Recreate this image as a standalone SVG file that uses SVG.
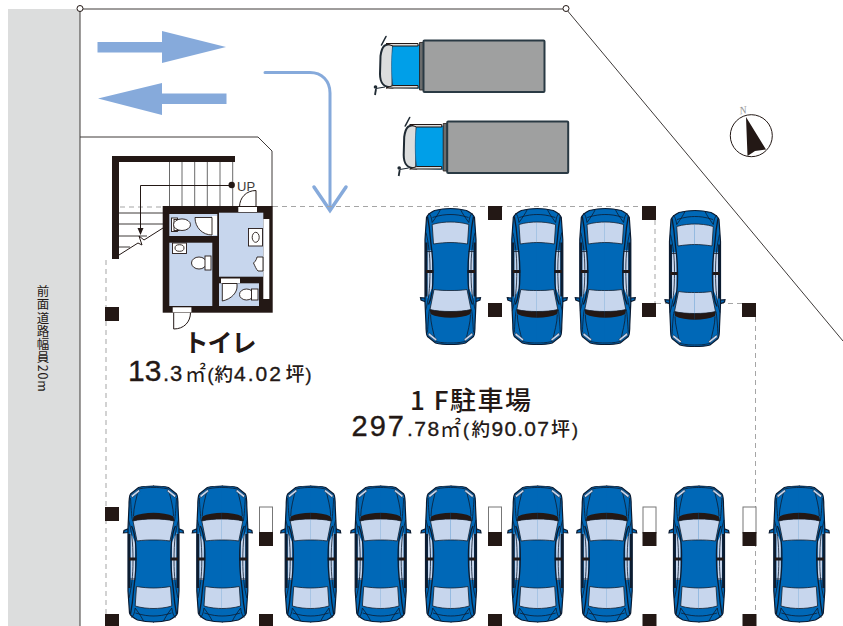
<svg xmlns="http://www.w3.org/2000/svg" xmlns:xlink="http://www.w3.org/1999/xlink" width="843" height="626" viewBox="0 0 843 626">
<style>
.k{fill:#231815}
.ln{fill:none;stroke:#231815;stroke-width:1}
.fx{fill:#fff;stroke:#231815;stroke-width:.9}
.room{fill:#c7d6ed}
.dash{fill:none;stroke:#a5a5a5;stroke-width:1;stroke-dasharray:5 4}
.flow{fill:#86aadb}
.t{fill:#231815;font-family:"Liberation Sans","Noto Sans CJK JP",sans-serif}
.n{stroke:#231815;stroke-width:.35}
.j{font-family:"Noto Sans CJK JP","Liberation Sans",sans-serif}
.cb{fill:#0068b7;stroke:#0a1a30;stroke-width:1.2}
.cl{fill:#c7d6ed;stroke:#14202e;stroke-width:.8}
.cs{fill:none;stroke:#0c1c30;stroke-width:.8}
.ct{fill:none;stroke:#0c1c30;stroke-width:1.3}
</style>
<defs>
<g id="carHalf">
<path class="cb" d="M-22,41.5L-29.5,44.5L-30,46.8L-25,46.5L-22,46Z" stroke-width=".7"/>
<path class="cb" d="M.5,0C-6,0-11,.5-15,1.5L-23,8C-24.5,10-24.5,14-24.5,20L-25.5,42L-25.5,105L-24,127C-23,130-20,132-16,134C-10,135.500-5,136 .5,136"/>
<path fill="#c7d6ed" d="M-23,46L-18.500,56L-18.500,94L-23,94Z"/>
<path fill="none" stroke="#0c1c30" stroke-width="2.400" d="M-24.300,48L-24.300,102"/>
<path fill="none" stroke="#231815" stroke-width="3" d="M-24.500,73L-17,73"/>
<path class="cs" d="M-24,93L-18,93"/>
<path class="cl" d="M.5,33C-8,33-15,33.500-20.500,35L-16.500,55C-10,54-5,54 .5,54"/>
<path class="k" d="M.5,26.800C-8,26.800-15,28-20,30.500L-20.800,35C-14,33.500-8,33 .5,33Z"/>
<path class="cl" d="M.5,102C-5,102-11,101.500-17,100.500L-18.300,120C-12,122-5,122.500 .5,122.500"/>
<path class="ct" d="M-22,40C-19,46-17,55-17.500,75C-17.500,88-19,95-20,105C-20.500,112-21,118-23,128"/>
<path class="cs" d="M-25,34C-22,44-20.500,55-20.500,75C-20.500,90-22,102-24.500,112"/>
<path class="cs" d="M-15,3C-17,12-20,22-20,30"/>
<path class="cs" d="M-23,12C-22.500,20-22,30-21,35"/>
<path class="cs" d="M-15,3C-8,1.500-4,1.500 .5,1.500"/>
<path fill="#c7d6ed" stroke="#0c1c30" stroke-width=".5" d="M-22.500,9.500L-14.800,3.600L-13.500,5.200L-21.500,11.800Z"/>
<path class="cs" d="M-18.300,122C-19,127-20,130-22,131.500M-18.300,122C-14,128-12,131-10,135M-18,127C-10,129.500-5,130 .5,130"/>
</g>
<g id="car"><use xlink:href="#carHalf" href="#carHalf"/><use xlink:href="#carHalf" href="#carHalf" transform="scale(-1 1)"/></g>
<g id="truck">
<path fill="none" stroke="#1f2a33" stroke-width="1.600" stroke-linecap="round" d="M381.500,45L386,36.500"/>
<path fill="none" stroke="#1f2a33" stroke-width="1.200" d="M376,88.500L385,87"/>
<circle cx="375.500" cy="87" r="1.800" fill="#1f2a33"/><path fill="none" stroke="#1f2a33" stroke-width="1.800" d="M376,89L375,95"/>
<path fill="#dcdddd" stroke="#1f2a33" stroke-width="2" d="M393,44C385,44 382,45 380.500,56L380,74C380,84 384,87.500 392.500,87.500Z"/>
<path fill="#009fe8" stroke="#1d5f90" stroke-width=".6" d="M393,45L420.500,45L420.500,88.500L393.500,87.500C391,78 391,55 393,45Z"/>
<path fill="#dcdddd" stroke="#231815" stroke-width="1" d="M386,43.500L418,43.500L418,46L393,46Z"/>
<path fill="#dcdddd" stroke="#231815" stroke-width="1" d="M386,88L418,88L418,85.500L393,85.500Z"/>
<path fill="#6b6c6c" stroke="#231815" stroke-width=".8" d="M419.500,42.500H423.500V90H419.500Z"/>
<rect x="423.500" y="40.500" width="121" height="51.500" rx="1" fill="#9fa0a0" stroke="#2a3a44" stroke-width="2"/>
</g>
</defs>

<g id="road"><rect x="8" y="9" width="72" height="617" fill="#dcdddd"/>
<text class="j" x="43" y="285" fill="#231815" font-size="12.500" letter-spacing=".8" style="writing-mode:vertical-rl;font-kerning:none;font-feature-settings:'palt' 0,'vpal' 0">前面道路幅員20m</text></g>

<g id="site">
<path class="ln" d="M80,626V9H566L843,341" style="stroke:#3e3a39"/>
<path class="ln" d="M80,137H258L272,151V207" style="stroke:#3e3a39"/>
<circle cx="80" cy="8.500" r="3" fill="#fff" stroke="#231815"/>
<circle cx="566" cy="8.500" r="3" fill="#fff" stroke="#231815"/>
</g>

<g id="flow-arrows">
<path class="flow" d="M97.500,42H162V31L226,47L162,63V52.500H97.500Z"/>
<path class="flow" d="M226.500,93.500H162V83L98,98.500L162,115V104H226.500Z"/>
<path fill="none" stroke="#86aadb" stroke-width="3" stroke-linecap="round" d="M265,72.500H310C322,72.500 330,81 330,93V210"/>
<path fill="none" stroke="#86aadb" stroke-width="3.500" stroke-linecap="round" d="M314,187L330,210.500L346,187"/>
</g>

<g id="connectors">
<path class="dash" d="M120,207H163M273,206.500H645"/>
<path class="dash" d="M655,220V303M656,303.500H742M755.500,317V626M106,260V307M106,321V626"/>
</g>

<g id="truck1"><use xlink:href="#truck" href="#truck"/></g>
<g id="truck2"><use xlink:href="#truck" href="#truck" transform="translate(23.700 81)"/></g>

<g id="north">
<circle cx="751.300" cy="135.700" r="21" fill="#fff" stroke="#231815" stroke-width="1"/>
<path class="k" d="M746,117L766,149.500L755,151L747.500,156Z"/>
<text x="743" y="114" font-size="11" fill="#999" font-family="'Liberation Serif',serif" font-style="italic" text-anchor="middle" transform="rotate(-10 743 110)">N</text>
</g>

<g id="stairs">
<path class="k" d="M112,156H235V162H119V259H112Z"/>
<path fill="none" stroke="#6a6a6a" stroke-width="1" d="M169.500,162V207M182,162V207M194.700,162V207M207.300,162V207M220,162V207M232.700,162V207"/>
<path class="ln" style="stroke:#3e3a39" d="M119,213H163M119,224H163M119,236H147M119,247H130"/>
<path class="ln" d="M119,255L138,243L142,245L139,236L144,240L163,228"/>
<path class="ln" d="M231.700,185.500H140.500V231"/>
<path class="k" d="M137.500,228H143.500L140.500,235Z"/>
<circle class="k" cx="231.700" cy="185" r="3.200"/>
<text x="237" y="190.500" font-size="13" fill="#3e3a39" font-family="'Liberation Sans',sans-serif">UP</text>
</g>

<g id="toilet-building">
<path class="ln" d="M256,207V190.500C246,190.500 239.500,198 239.500,207"/>
<path class="ln" d="M173.700,312.500V329C184,329 190.500,322 190.500,312.500"/>
<rect class="k" x="162.700" y="206" width="110" height="106.700"/>
<rect x="263.300" y="219" width="6" height="80" fill="#fff"/>
<rect class="room" x="169.300" y="214" width="48" height="22"/>
<rect class="room" x="169.300" y="242.700" width="43" height="63.300"/>
<rect class="room" x="219" y="212.700" width="44.300" height="64"/>
<rect class="room" x="219" y="283.300" width="40" height="22.700"/>
<rect x="238.300" y="207" width="18.700" height="5" fill="#fff"/>
<rect x="172.700" y="307.300" width="18.700" height="5" fill="#fff"/>
<rect x="212" y="216" width="5" height="19" fill="#fff"/>
<rect x="221" y="278.500" width="19" height="4.500" fill="#fff"/>
<path class="fx" d="M195,217.500H212V235C203,235 195,228 195,217.500Z"/>
<path class="fx" d="M222.300,283.500V301C232,299 237,292 237,287L237,283.500Z"/>
<rect class="fx" x="171.500" y="218" width="6" height="13.500"/><rect class="fx" x="174" y="219.500" width="5" height="11"/>
<ellipse class="fx" cx="182" cy="224.700" rx="8.500" ry="5.800"/>
<rect class="fx" x="172.500" y="243" width="14" height="10.500"/><ellipse class="fx" cx="179.500" cy="248" rx="4.500" ry="3.300"/>
<ellipse class="fx" cx="199" cy="263" rx="7.500" ry="6"/><rect class="fx" x="205" y="256" width="6" height="14"/>
<rect class="fx" x="248.500" y="228.500" width="14" height="17.500"/><ellipse class="fx" cx="255.700" cy="237.300" rx="3.500" ry="5"/>
<path class="fx" d="M263,257H257C257,258 256,261 253.500,263C255,266 256,269 258,271H263Z"/>
<ellipse class="fx" cx="246.500" cy="294.500" rx="7" ry="5.500"/><rect class="fx" x="251.500" y="289" width="6.500" height="11"/>
</g>

<g id="pillars">
<rect class="k" x="488" y="206" width="14" height="14"/><rect class="k" x="488" y="303" width="14" height="14"/>
<rect class="k" x="642" y="206" width="14" height="14"/><rect class="k" x="642" y="303" width="14" height="14"/>
<rect class="k" x="742" y="303" width="14" height="14"/><rect class="k" x="105" y="307" width="14" height="14"/>
<rect class="k" x="105" y="507" width="14" height="14"/><rect class="k" x="105" y="614" width="14" height="12"/>
<rect class="k" x="259" y="614" width="14" height="12"/><rect class="k" x="488" y="614" width="14" height="12"/>
<rect class="k" x="642.500" y="614" width="14" height="12"/><rect class="k" x="742.500" y="614" width="14" height="12"/>
<g id="pillar-a"><rect x="259.500" y="507" width="13" height="26" fill="#fff" stroke="#777" stroke-width="1"/><rect class="k" x="259" y="532" width="14" height="14"/></g>
<g id="pillar-b"><rect x="488.500" y="507" width="13" height="26" fill="#fff" stroke="#777" stroke-width="1"/><rect class="k" x="488" y="532" width="14" height="14"/></g>
<g id="pillar-c"><rect x="643" y="507" width="13" height="26" fill="#fff" stroke="#777" stroke-width="1"/><rect class="k" x="642.500" y="532" width="14" height="14"/></g>
<g id="pillar-d"><rect x="743" y="507" width="13" height="26" fill="#fff" stroke="#777" stroke-width="1"/><rect class="k" x="742.500" y="532" width="14" height="14"/></g>
</g>

<g id="cars-top">
<use xlink:href="#car" href="#car" transform="translate(450.500 344.500) scale(1 -1)"/>
<use xlink:href="#car" href="#car" transform="translate(537.300 344.500) scale(1 -1)"/>
<use xlink:href="#car" href="#car" transform="translate(605.300 344.500) scale(1 -1)"/>
<use xlink:href="#car" href="#car" transform="translate(695 346.500) scale(1 -1)"/>
</g>
<g id="cars-bottom">
<use xlink:href="#car" href="#car" transform="translate(153.500 486)"/>
<use xlink:href="#car" href="#car" transform="translate(222.300 486)"/>
<use xlink:href="#car" href="#car" transform="translate(310.700 486)"/>
<use xlink:href="#car" href="#car" transform="translate(380.700 486)"/>
<use xlink:href="#car" href="#car" transform="translate(451 486)"/>
<use xlink:href="#car" href="#car" transform="translate(537.700 486)"/>
<use xlink:href="#car" href="#car" transform="translate(606.700 486)"/>
<use xlink:href="#car" href="#car" transform="translate(699 486)"/>
<use xlink:href="#car" href="#car" transform="translate(799.300 486)"/>
</g>

<g id="label-toilet">
<text class="t j" x="219.500" y="352" font-size="25" font-weight="700" text-anchor="middle" letter-spacing="-1">トイレ</text>
<text class="t" y="381"><tspan class="n" x="128" font-size="30">13</tspan><tspan class="n" x="163" font-size="22" letter-spacing="1">.3</tspan><tspan class="j" x="185" font-size="21">㎡</tspan><tspan class="n" x="207.500" font-size="18">(</tspan><tspan class="j" x="214.500" font-size="18.500" font-weight="500">約</tspan><tspan class="n" x="234" font-size="21" letter-spacing="2">4.02</tspan><tspan class="j" x="285.500" font-size="19" font-weight="500">坪</tspan><tspan class="n" x="305.500" font-size="18">)</tspan></text>
</g>
<g id="label-parking">
<text class="t j" x="410" y="410" font-size="26" font-weight="500" letter-spacing="1.500">1 F駐車場</text>
<text class="t" y="436"><tspan class="n" x="351.500" font-size="29" letter-spacing="2">297</tspan><tspan class="n" x="407" font-size="21" letter-spacing="1.500">.78</tspan><tspan class="j" x="440" font-size="21">㎡</tspan><tspan class="n" x="463" font-size="18">(</tspan><tspan class="j" x="471.500" font-size="18.500" font-weight="500">約</tspan><tspan class="n" x="491.500" font-size="21" letter-spacing="1.200">90.07</tspan><tspan class="j" x="551" font-size="19" font-weight="500">坪</tspan><tspan class="n" x="572" font-size="18">)</tspan></text>
</g>
</svg>
